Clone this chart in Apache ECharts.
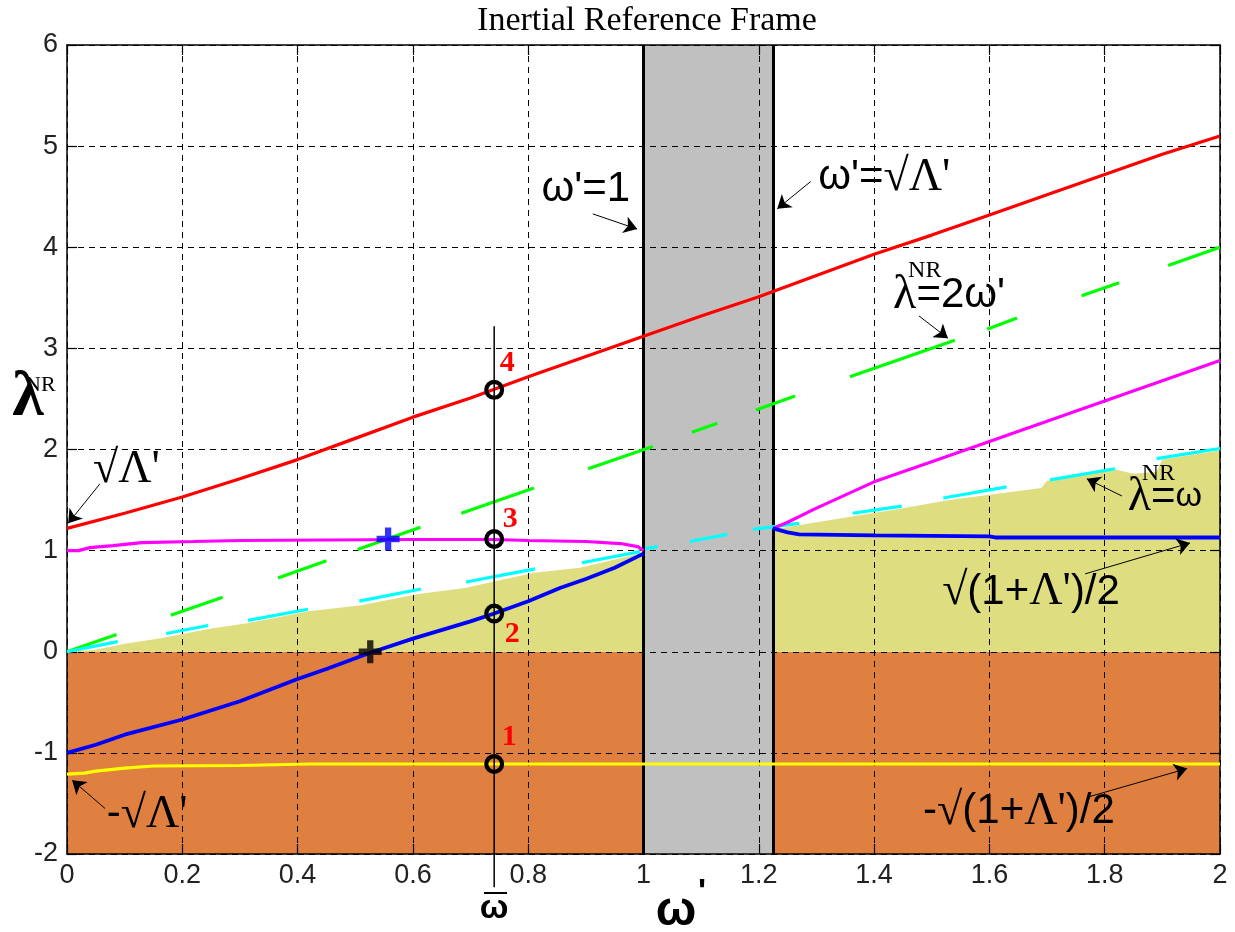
<!DOCTYPE html>
<html>
<head>
<meta charset="utf-8">
<script src="https://cdn.jsdelivr.net/npm/echarts@6/dist/echarts.min.js"></script>
<style>
  html, body { margin: 0; padding: 0; background: #fff; }
  #chart { width: 1235px; height: 932px; }
</style>
</head>
<body>
<div id="chart"></div>
<script>
// ---- axes ----
const xTicks = [0, 0.2, 0.4, 0.6, 0.8, 1, 1.2, 1.4, 1.6, 1.8, 2];
const yTicks = [-2, -1, 0, 1, 2, 3, 4, 5, 6];

// ---- characteristic values ----
const omegaBar = 0.741;          // reference frequency ω̄
const omegaSqrtLambda = 1.2247;  // ω' = √Λ'
const omegaOne = 1;              // ω' = 1

// ---- branches of λ^NR(ω') ----
const redBranch = [[0,1.22],[0.1,1.37],[0.2,1.53],[0.3,1.71],[0.4,1.9],[0.5,2.11],[0.6,2.32],[0.7,2.51],[0.8,2.72],[0.9,2.92],[1.0,3.12],[1.1,3.32],[1.2,3.51],[1.3,3.72],[1.4,3.93],[1.5,4.12],[1.6,4.32],[1.7,4.52],[1.8,4.72],[1.9,4.92],[2.0,5.1]];
const magentaLow = [[0,1.0],[0.02,1.0],[0.04,1.03],[0.08,1.05],[0.13,1.08],[0.22,1.09],[0.3,1.1],[0.45,1.105],[0.6,1.11],[0.74,1.11],[0.8,1.1],[0.9,1.09],[0.96,1.07],[0.99,1.04],[1.0,1.0]];
const magentaHigh = [[1.2247,1.22],[1.25,1.28],[1.3,1.42],[1.4,1.68],[1.5,1.88],[1.6,2.08],[1.7,2.28],[1.8,2.48],[1.9,2.68],[2.0,2.88]];
const blueLow = [[0,-1.0],[0.05,-0.92],[0.1,-0.82],[0.2,-0.67],[0.3,-0.49],[0.4,-0.27],[0.45,-0.17],[0.526,-0.01],[0.6,0.13],[0.7,0.3],[0.741,0.378],[0.8,0.5],[0.855,0.63],[0.9,0.72],[0.95,0.83],[1.0,0.97]];
const blueHigh = [[1.2247,1.22],[1.25,1.18],[1.27,1.16],[1.4,1.15],[1.6,1.14],[1.61,1.13],[2.0,1.13]];
const yellowBranch = [[0,-1.21],[0.03,-1.2],[0.05,-1.18],[0.1,-1.15],[0.15,-1.13],[0.3,-1.125],[0.42,-1.11],[2.0,-1.11]];

// λ^NR = 2ω' (drawn as separate dashes)
const greenDashes = [
  [[0,0],[0.086,0.17]], [[0.18,0.36],[0.27,0.54]], [[0.366,0.73],[0.45,0.9]],
  [[0.504,1.01],[0.613,1.23]], [[0.684,1.37],[0.81,1.62]], [[0.904,1.81],[1.016,2.03]],
  [[1.084,2.17],[1.128,2.26]], [[1.195,2.39],[1.263,2.53]], [[1.358,2.72],[1.54,3.08]],
  [[1.596,3.19],[1.648,3.3]], [[1.76,3.52],[1.825,3.65]], [[1.91,3.82],[2.0,4.0]]
];
// λ^NR = ω (dashed)
const cyanDashes = [
  [[0,0],[0.088,0.1]], [[0.172,0.18],[0.245,0.26]], [[0.314,0.31],[0.418,0.42]],
  [[0.507,0.5],[0.614,0.62]], [[0.692,0.69],[0.812,0.82]], [[0.893,0.88],[0.994,0.99]],
  [[1.003,1.02],[1.025,1.04]], [[1.08,1.09],[1.145,1.16]], [[1.19,1.21],[1.27,1.27]],
  [[1.363,1.37],[1.448,1.44]], [[1.52,1.52],[1.63,1.63]], [[1.705,1.7],[1.818,1.81]],
  [[1.89,1.91],[2.0,2.01]]
];
// upper edge of the shaded (0 < λ < ω) region
const khakiEdge = [[0,0],[0.05,0.02],[0.1,0.08],[0.16,0.13],[0.25,0.23],[0.31,0.28],[0.42,0.4],[0.51,0.46],[0.61,0.57],[0.69,0.63],[0.81,0.78],[0.89,0.83],[1.0,0.98],[1.2247,1.21],[1.3,1.28],[1.45,1.42],[1.53,1.5],[1.69,1.62],[1.7,1.69],[1.82,1.8],[1.85,1.76],[1.89,1.78],[1.9,1.9],[2.0,1.99]];

// rectangles [x0, y0, x1, y1]
const negativeRegion = [[0, -2, 2, 0]];
const bandRegion = [[omegaOne, -2, omegaSqrtLambda, 6]];

// marked operating points on ω' = ω̄
const pointY = [-1.11, 0.378, 1.115, 2.59];
const pointLabels = ['1', '2', '3', '4'];
const bluePlus = [0.557, 1.115];
const blackPlus = [0.526, 0];
const omegaBarTop = 3.22;
const omegaBarBottom = -2.33;

// ---- styles ----
const C = {
  orange: '#df7f40', khaki: '#dedd80', grey: '#c0c0c0',
  red: '#ff0000', magenta: '#ff00ff', blue: '#0000ff', yellow: '#ffff00',
  green: '#00ff00', cyan: '#00ffff'
};
const labelOffsets = [[15, -27], [18, 21], [16, -20], [13, -27]];
const SANS = "'Liberation Sans', Arial, sans-serif";
const SERIF = "'Liberation Serif', 'Times New Roman', serif";

const chart = echarts.init(document.getElementById('chart'));

function rectSeries(data, color, z) {
  return {
    type: 'custom', z: z, silent: true, clip: true,
    encode: { x: [0, 2], y: [1, 3] },
    data: data,
    renderItem: function (params, api) {
      const p0 = api.coord([api.value(0), api.value(3)]);
      const p1 = api.coord([api.value(2), api.value(1)]);
      return { type: 'rect', shape: { x: p0[0], y: p0[1], width: p1[0] - p0[0], height: p1[1] - p0[1] },
               style: { fill: color } };
    }
  };
}
function curve(data, color, width) {
  return { type: 'line', data: data, z: 5, symbol: 'none', showSymbol: false, silent: true,
           lineStyle: { color: color, width: width }, animation: false };
}
function segs(list, color, width) {
  return { type: 'lines', coordinateSystem: 'cartesian2d', z: 5, silent: true, polyline: false,
           lineStyle: { color: color, width: width, opacity: 1, cap: 'butt' },
           data: list.map(c => ({ coords: c })) };
}

// filled plus and ring marker shapes
const plusPath = 'path://M8,0H14V8H22V14H14V22H8V14H0V8H8Z';
const ringPath = 'path://M0,10A10,10 0 1,0 20,10A10,10 0 1,0 0,10Z M4.2,10A5.8,5.8 0 1,1 15.8,10A5.8,5.8 0 1,1 4.2,10Z';

const axisCommon = {
  type: 'value', z: 3,
  axisLine: { show: true, onZero: false, lineStyle: { color: '#000', width: 1.5 } },
  axisTick: { show: true, inside: true, length: 10, lineStyle: { color: '#000', width: 1.2 } }
};

const option = {
  animation: false,
  backgroundColor: '#fff',
  grid: { left: 67, right: 15, top: 45, bottom: 78, containLabel: false },
  xAxis: [
    Object.assign({}, axisCommon, {
      min: xTicks[0], max: xTicks[xTicks.length - 1], interval: xTicks[1] - xTicks[0], position: 'bottom',
      axisLabel: { color: '#222', fontSize: 27, fontFamily: SANS, margin: 8 },
      splitLine: { show: true, lineStyle: { color: '#000', width: 1, type: [6, 5] } }
    }),
    Object.assign({}, axisCommon, {
      min: xTicks[0], max: xTicks[xTicks.length - 1], interval: xTicks[1] - xTicks[0], position: 'top',
      axisLabel: { show: false }, splitLine: { show: false }
    })
  ],
  yAxis: [
    Object.assign({}, axisCommon, {
      min: yTicks[0], max: yTicks[yTicks.length - 1], interval: 1, position: 'left',
      axisLabel: { color: '#222', fontSize: 27, fontFamily: SANS, margin: 9 },
      splitLine: { show: true, lineStyle: { color: '#000', width: 1, type: [6, 5] } }
    }),
    Object.assign({}, axisCommon, {
      min: yTicks[0], max: yTicks[yTicks.length - 1], interval: 1, position: 'right',
      axisLabel: { show: false }, splitLine: { show: false }
    })
  ],
  series: [
    rectSeries(negativeRegion, C.orange, 1),
    { type: 'line', data: khakiEdge, z: 1, symbol: 'none', showSymbol: false, silent: true,
      lineStyle: { width: 0 }, areaStyle: { color: C.khaki, opacity: 1, origin: 0 } },
    rectSeries(bandRegion, C.grey, 2),
    { type: 'lines', coordinateSystem: 'cartesian2d', z: 5, silent: true,
      lineStyle: { color: '#000', width: 3, opacity: 1 },
      data: [{ coords: [[omegaOne, yTicks[0]], [omegaOne, yTicks[yTicks.length - 1]]] },
             { coords: [[omegaSqrtLambda, yTicks[0]], [omegaSqrtLambda, yTicks[yTicks.length - 1]]] }] },
    curve(redBranch, C.red, 3.2),
    curve(magentaLow, C.magenta, 3.2),
    curve(magentaHigh, C.magenta, 3.2),
    curve(blueLow, C.blue, 3.8),
    curve(blueHigh, C.blue, 3.8),
    curve(yellowBranch, C.yellow, 3.2),
    segs(greenDashes, C.green, 3.2),
    segs(cyanDashes, C.cyan, 3.2),
    { type: 'line', data: [[omegaBar, omegaBarTop], [omegaBar, omegaBarBottom]], z: 5, clip: false,
      symbol: 'none', silent: true, lineStyle: { color: '#000', width: 1.5 } },
    { type: 'scatter', z: 6, silent: true, symbol: ringPath, symbolSize: 20,
      itemStyle: { color: '#000', opacity: 1 },
      data: pointY.map((y, i) => ({
        value: [omegaBar, y],
        label: { show: true, position: 'inside', offset: labelOffsets[i], formatter: pointLabels[i],
                 color: '#ff0000', fontSize: 30, fontWeight: 'bold', fontFamily: SERIF }
      })) },
    { type: 'scatter', z: 6, silent: true, symbol: plusPath, symbolSize: 23,
      data: [ { value: bluePlus, itemStyle: { color: C.blue } },
              { value: blackPlus, itemStyle: { color: '#000' } } ] },
    { type: 'lines', coordinateSystem: 'cartesian2d', z: 6, silent: true,
      symbol: ['none', 'arrow'], symbolSize: 13,
      lineStyle: { color: '#000', width: 1, opacity: 1 },
      data: [
        { coords: [[0.912, 4.33], [0.989, 4.18]] },
        { coords: [[1.29, 4.65], [1.232, 4.38]] },
        { coords: [[1.478, 3.32], [1.528, 3.10]] },
        { coords: [[1.83, 1.54], [1.769, 1.71]] },
        { coords: [[1.766, 0.77], [1.948, 1.076]] },
        { coords: [[1.769, -1.44], [1.943, -1.155]] },
        { coords: [[0.057, 1.66], [0.002, 1.27]] },
        { coords: [[0.066, -1.55], [0.009, -1.27]] }
      ] }
  ]
};
chart.setOption(option);

// ---- text annotations anchored at data coordinates ----
const RICH = {
  s: { fontFamily: SANS, fontSize: 42, fill: '#000', color: '#000' },
  g: { fontFamily: SERIF, fontSize: 46, fill: '#000', color: '#000' },
  l: { fontFamily: SERIF, fontSize: 48, fill: '#000', color: '#000' },
  o: { fontFamily: SANS, fontSize: 34, fill: '#000', color: '#000' }
};
const annotations = [
  { at: [0.823, 4.57], text: "{s|ω'=1}" },
  { at: [1.303, 4.69], text: "{s|ω'=}{g|√Λ'}" },
  { at: [1.433, 3.52], text: "{l|λ}{s|=2ω'}", sup: { dx: 15, dy: -25, text: 'NR' } },
  { at: [1.84, 1.53], text: "{l|λ}{s|=}{o|ω}", sup: { dx: 14, dy: -23, text: 'NR' } },
  { at: [1.518, 0.59], text: "{g|√}{s|(1+}{g|Λ'}{s|)/2}" },
  { at: [1.485, -1.58], text: "{s|-}{g|√}{s|(1+}{g|Λ'}{s|)/2}" },
  { at: [0.045, 1.80], text: "{g|√Λ'}" },
  { at: [0.069, -1.61], text: "{s|-}{g|√Λ'}" }
];
const graphics = [];
annotations.forEach(a => {
  const p = chart.convertToPixel({ xAxisIndex: 0, yAxisIndex: 0 }, a.at);
  graphics.push({ type: 'text', x: p[0], y: p[1], z: 100, silent: true,
    style: { text: a.text, rich: RICH, align: 'left', verticalAlign: 'middle', fill: '#000' } });
  if (a.sup) {
    graphics.push({ type: 'text', x: p[0] + a.sup.dx, y: p[1] + a.sup.dy, z: 100, silent: true,
      style: { text: a.sup.text, fontFamily: SERIF, fontSize: 24, fill: '#000', align: 'left', verticalAlign: 'middle' } });
  }
});

// title and axis names
graphics.push(
  { type: 'text', x: 647, y: 21, z: 100, silent: true,
    style: { text: 'Inertial Reference Frame', fontFamily: SERIF, fontSize: 34, fill: '#000', align: 'center', verticalAlign: 'middle' } },
  { type: 'text', x: 28, y: 398, z: 100, silent: true,
    style: { text: 'λ', fontFamily: SERIF, fontSize: 64, fontWeight: 'bold', fill: '#000', align: 'center', verticalAlign: 'middle' } },
  { type: 'text', x: 25, y: 385, z: 100, silent: true,
    style: { text: 'NR', fontFamily: SERIF, fontSize: 22, fill: '#000', align: 'left', verticalAlign: 'middle' } },
  { type: 'text', x: 676, y: 912, z: 100, silent: true,
    style: { text: 'ω', fontFamily: SANS, fontSize: 48, fontWeight: 'bold', fill: '#000', align: 'center', verticalAlign: 'middle' } },
  { type: 'text', x: 702, y: 893, z: 100, silent: true,
    style: { text: "'", fontFamily: SANS, fontSize: 34, fontWeight: 'bold', fill: '#000', align: 'center', verticalAlign: 'middle' } },
  { type: 'text', x: 494, y: 909, z: 100, silent: true,
    style: { text: 'ω', fontFamily: SANS, fontSize: 34, fontWeight: 'bold', fill: '#000', align: 'center', verticalAlign: 'middle' } },
  { type: 'rect', z: 100, silent: true, shape: { x: 484, y: 892, width: 23, height: 2 }, style: { fill: '#000' } }
);
chart.setOption({ graphic: graphics });
</script>
</body>
</html>
